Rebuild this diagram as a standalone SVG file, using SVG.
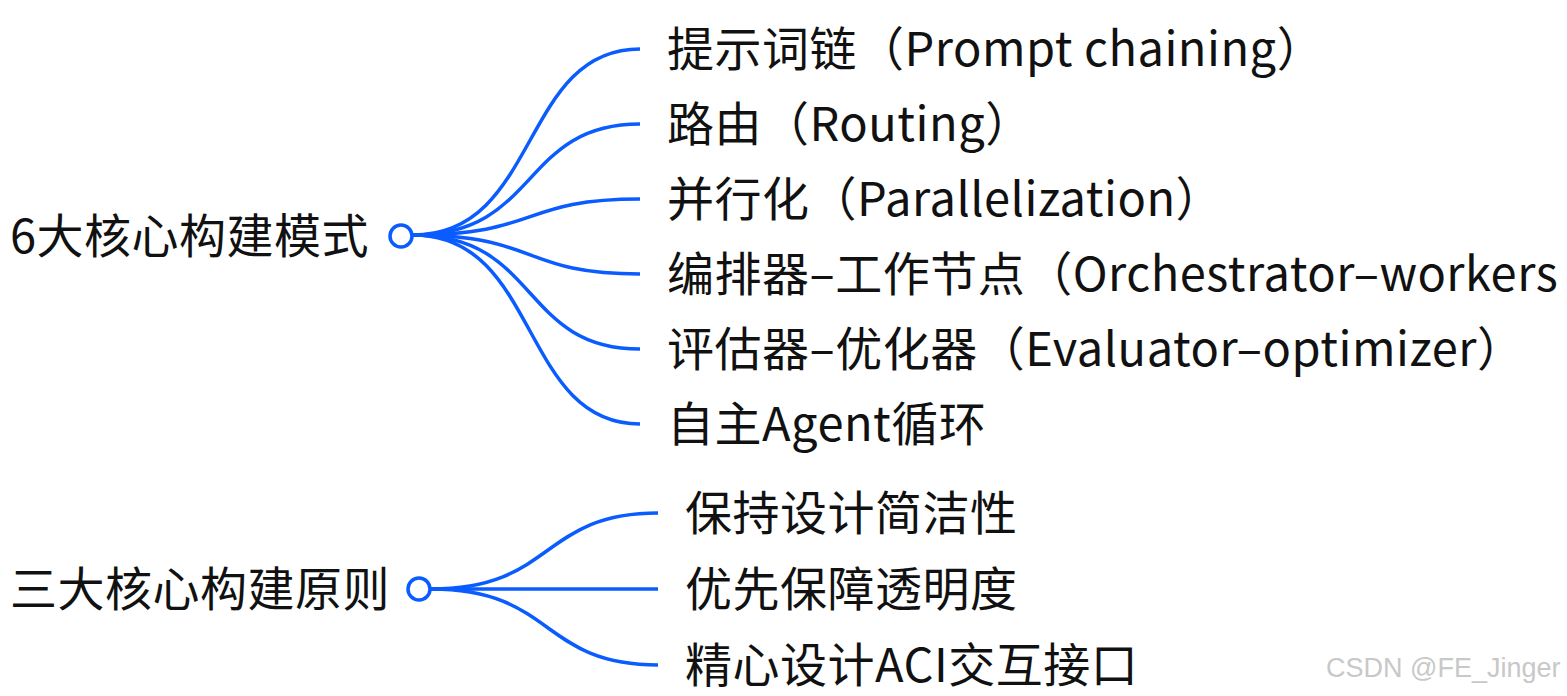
<svg xmlns="http://www.w3.org/2000/svg" width="1567" height="696" viewBox="0 0 1567 696">
<style>
.t{font-family:"Noto Sans CJK SC","Noto Sans",sans-serif;font-size:47px;letter-spacing:0.5px;fill:#111;}
.c{fill:none;stroke:#0A5CFF;stroke-width:3.5;}
.n{fill:#fff;stroke:#0A5CFF;stroke-width:3.5;}
.w{font-family:"Liberation Sans",Arial,sans-serif;font-size:27px;fill:#c8c8c8;}
</style>
<rect width="1567" height="696" fill="#fff"/>
<g id="connectors">
<path class="c" d="M413,235 C540,235 520,49 640,49"/>
<path class="c" d="M413,235 C540,235 520,124 640,124"/>
<path class="c" d="M413,235 C540,235 520,199 640,199"/>
<path class="c" d="M413,235 C540,235 520,274 640,274"/>
<path class="c" d="M413,235 C540,235 520,349 640,349"/>
<path class="c" d="M413,235 C540,235 520,424 640,424"/>
<path class="c" d="M431,589 C555,589 540,513 658,513"/>
<path class="c" d="M431,589 L658,589"/>
<path class="c" d="M431,589 C555,589 540,665 658,665"/>
</g>
<g id="root1">
<circle class="n" cx="401" cy="236" r="11"/>
<text class="t" x="10" y="253">6大核心构建模式</text>
</g>
<g id="root2">
<circle class="n" cx="419" cy="589" r="11"/>
<text class="t" x="10" y="606">三大核心构建原则</text>
</g>
<g id="n1"><text class="t" x="667" y="66">提示词链（Prompt chaining）</text></g>
<g id="n2"><text class="t" x="667" y="141">路由（Routing）</text></g>
<g id="n3"><text class="t" x="667" y="216">并行化（Parallelization）</text></g>
<g id="n4"><text class="t" x="667" y="291">编排器–工作节点（Orchestrator–workers</text></g>
<g id="n5"><text class="t" x="667" y="366">评估器–优化器（Evaluator–optimizer）</text></g>
<g id="n6"><text class="t" x="667" y="441">自主Agent循环</text></g>
<g id="n7"><text class="t" x="685" y="530">保持设计简洁性</text></g>
<g id="n8"><text class="t" x="685" y="606">优先保障透明度</text></g>
<g id="n9"><text class="t" x="685" y="682">精心设计ACI交互接口</text></g>
<text class="w" x="1326" y="677">CSDN @FE_Jinger</text>
</svg>
